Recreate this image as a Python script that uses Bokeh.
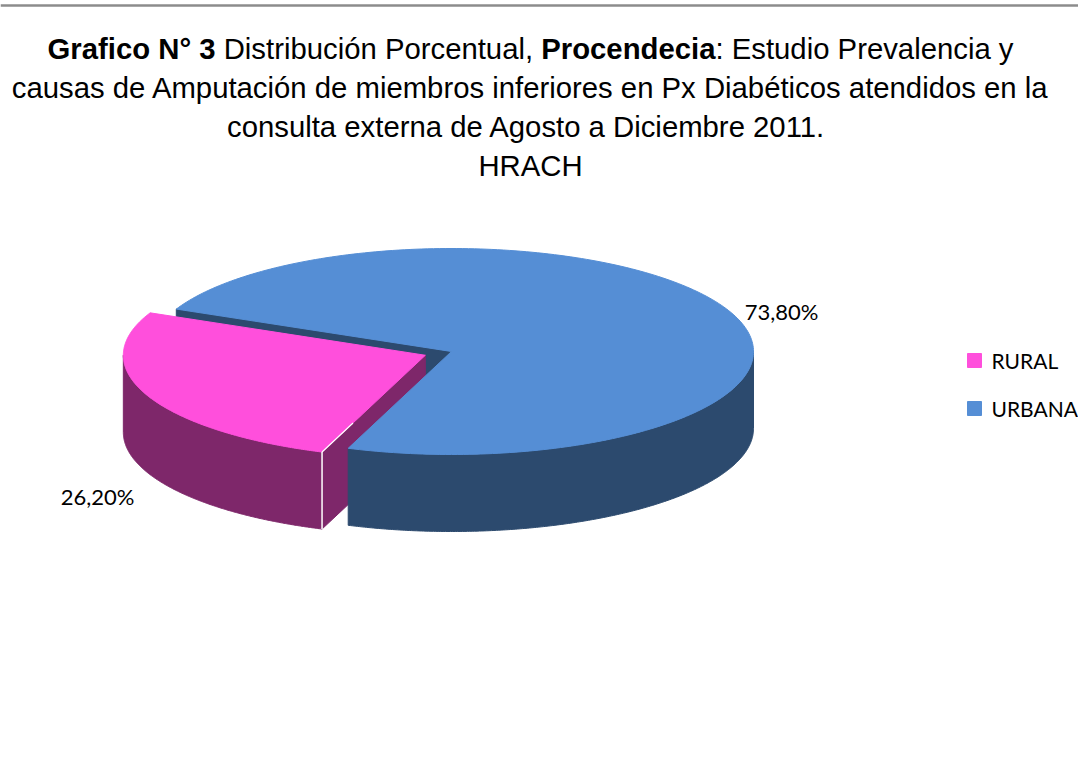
import numpy as np
from bokeh.plotting import figure
from bokeh.models import Range1d
from bokeh.core.properties import value
from bokeh.embed import file_html
from bokeh.resources import INLINE

# ---------------- data ----------------
categories = ["RURAL", "URBANA"]
percentages = [26.2, 73.8]
pct_labels = ["26,20%", "73,80%"]
top_colors = ["#FF4FDC", "#558ED5"]
side_colors = ["#7E276A", "#2C4A6E"]
explode = [0.094, 0.0]

title_line1 = ["Grafico N° 3", "Distribución Porcentual,", "Procendecia", ": Estudio Prevalencia y"]
title_line1_styles = ["bold", "normal", "bold", "normal"]
title_rest = [
    "causas de Amputación de miembros inferiores en Px Diabéticos atendidos en la",
    "consulta externa de Agosto a  Diciembre 2011.",
    "HRACH",
]

# ---------------- layout ----------------
W, H = 1078, 753
CX, CY, RX, RY, DEPTH = 451.0, 351.0, 302.0, 103.0, 77.0
START_ANGLE = 250.0  # degrees, slices run clockwise from here

p = figure(width=W, height=H, output_backend="svg", toolbar_location=None,
           x_range=Range1d(0, W), y_range=Range1d(H, 0),
           x_axis_location=None, y_axis_location=None, min_border=0)
p.grid.visible = False
p.outline_line_color = None
p.background_fill_color = "white"
p.border_fill_color = "white"

# top border rule
p.line(x=[0, W], y=[5, 5], line_color="#8C8C8C", line_width=2.5)

# ---------------- pie geometry ----------------
fr = np.array(percentages) / np.sum(percentages)
his, los = [], []
a = START_ANGLE
for f in fr:
    his.append(a)
    a -= 360.0 * f
    los.append(a)


def arc(cx, cy, a0, a1, n=240):
    t = np.radians(np.linspace(a0, a1, n))
    return cx + RX * np.cos(t), cy - RY * np.sin(t)


def pt(cx, cy, ang):
    t = np.radians(ang)
    return cx + RX * np.cos(t), cy - RY * np.sin(t)


centers = []
for i in range(len(fr)):
    mid = np.radians((los[i] + his[i]) / 2)
    centers.append((CX + explode[i] * RX * np.cos(mid), CY - explode[i] * RY * np.sin(mid)))

parts = {}  # (kind, i) -> (xs, ys, color)
for i in range(len(fr)):
    cx, cy = centers[i]
    lo, hi = los[i], his[i]
    ax, ay = arc(cx, cy, lo, hi)
    parts[("top", i)] = (list(np.concatenate([[cx], ax])), list(np.concatenate([[cy], ay])), top_colors[i])
    wx, wy = [], []
    for k in range(-2, 3):
        s, e = 180 + 360 * k, 360 + 360 * k
        a0, a1 = max(lo, s), min(hi, e)
        if a0 < a1:
            bx, by = arc(cx, cy, a0, a1)
            wx = list(np.concatenate([bx, bx[::-1]]))
            wy = list(np.concatenate([by, by[::-1] + DEPTH]))
    if wx:
        parts[("outer", i)] = (wx, wy, side_colors[i])
    for ang, vis in ((hi, np.cos(np.radians(hi)) < 0), (lo, np.cos(np.radians(lo)) > 0)):
        if vis:
            rx_, ry_ = pt(cx, cy, ang)
            parts[("radial", i)] = ([cx, rx_, rx_, cx], [cy, ry_, ry_ + DEPTH, cy + DEPTH], side_colors[i])

order = [("radial", 1), ("radial", 0), ("outer", 0), ("top", 0), ("outer", 1), ("top", 1)]
xs, ys, cols = [], [], []
for key in order:
    if key in parts:
        x_, y_, c_ = parts[key]
        xs.append(x_)
        ys.append(y_)
        cols.append(c_)
p.patches(xs=xs, ys=ys, fill_color=cols, line_color=cols, line_width=1)

# white edge highlight on exploded slice
cx0, cy0 = centers[0]
ex, ey = pt(cx0, cy0, his[0])
p.segment(x0=[ex], y0=[ey], x1=[ex], y1=[ey + DEPTH], line_color="white", line_width=1.5)
p.segment(x0=[ex], y0=[ey], x1=[ex + 0.3 * (cx0 - ex)], y1=[ey + 0.3 * (cy0 - ey)],
          line_color="white", line_width=1.2)

# ---------------- data labels ----------------
p.text(x=[97, 781], y=[496, 311], text=pct_labels, text_font=value("Lato"),
       text_font_size="22px", text_align="center", text_baseline="alphabetic", text_color="black")

# ---------------- legend ----------------
p.scatter(x=[974, 974], y=[360, 408], marker="square", size=14, fill_color=top_colors,
          line_color=top_colors)
p.text(x=[991, 991], y=[360, 408], text=categories, text_font=value("Lato"),
       text_font_size="21px", text_align="left", text_baseline="middle", text_color="black")

# ---------------- title ----------------
FS = 29.3
TCX = 530
seg_em = [5.735, 11.115, 5.947, 10.171]
space_em = 0.278
total = sum(seg_em) * FS
x0 = TCX - total / 2
seg_x = [x0, x0 + (seg_em[0] + space_em) * FS, x0 + (seg_em[0] + seg_em[1]) * FS,
         x0 + (seg_em[0] + seg_em[1] + seg_em[2]) * FS]
for txt, sty, sx in zip(title_line1, title_line1_styles, seg_x):
    p.text(x=[sx], y=[48], text=[txt], text_font=value("Liberation Sans"), text_font_style=sty,
           text_font_size=f"{FS}px", text_align="left", text_baseline="alphabetic", text_color="black")
p.text(x=[TCX] * 3, y=[87, 126, 165], text=title_rest, text_font=value("Liberation Sans"),
       text_font_size=f"{FS}px", text_align="center", text_baseline="alphabetic", text_color="black")

open("out.html", "w").write(file_html(p, INLINE))
